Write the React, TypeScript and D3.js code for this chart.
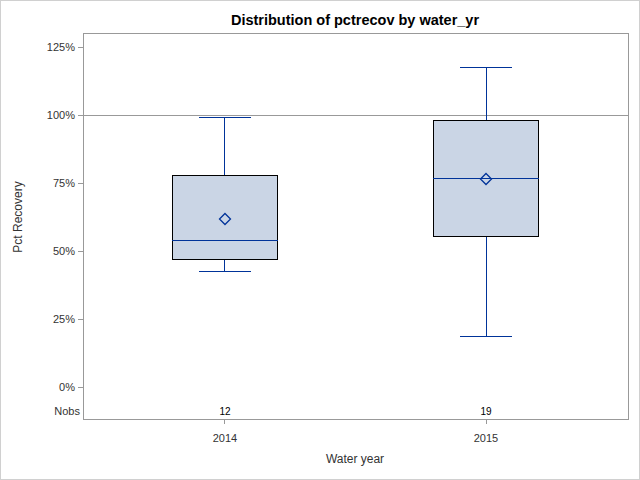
import * as d3 from "d3";

// values (fractions)
const years = ["2014", "2015"];
const nobs = [12, 19];
const whiskerLow = [0.426, 0.1875];
const q1 = [0.47, 0.555];
const median = [0.54, 0.765];
const q3 = [0.776, 0.978];
const whiskerHigh = [0.989, 1.176];
const means = [0.618, 0.765];
const yTicks = [0, 0.25, 0.5, 0.75, 1, 1.25];
const refValue = 1;

const width = 640;
const height = 480;
const frame = { left: 83, right: 628, top: 33, bottom: 419 };

const boxFill = "#CAD5E5";
const blue = "#003399";
const grey = "#999999";
const font = "'Liberation Sans', Arial, sans-serif";

export default function App() {
  const x = d3
    .scalePoint<string>()
    .domain(years)
    .range([frame.left, frame.right])
    .padding(0.544);

  const y = d3.scaleLinear().domain([0, 1.25]).range([387, 47]);
  const fmt = d3.format(".0%");

  const boxW = x.step() * 0.405;
  const capW = boxW / 2;
  const nobsY = 411;

  return (
    <svg
      width={width}
      height={height}
      style={{ position: "absolute", left: 0, top: 0, fontFamily: font }}
    >
      <rect x={0.5} y={0.5} width={width - 1} height={height - 1} fill="#fff" stroke="#d0d0d0" />

      <text x={355} y={25} textAnchor="middle" fontSize={14.5} fontWeight="bold" fill="#000">
        Distribution of pctrecov by water_yr
      </text>

      <g shapeRendering="crispEdges">
        {/* reference line */}
        <line x1={frame.left} x2={frame.right} y1={y(refValue)} y2={y(refValue)} stroke={grey} />

        {/* boxes */}
        {years.map((yr, i) => {
          const cx = x(yr) as number;
          return (
            <g key={yr}>
              <line x1={cx} x2={cx} y1={y(q3[i])} y2={y(whiskerHigh[i])} stroke={blue} />
              <line x1={cx} x2={cx} y1={y(q1[i])} y2={y(whiskerLow[i])} stroke={blue} />
              <line x1={cx - capW / 2} x2={cx + capW / 2} y1={y(whiskerHigh[i])} y2={y(whiskerHigh[i])} stroke={blue} />
              <line x1={cx - capW / 2} x2={cx + capW / 2} y1={y(whiskerLow[i])} y2={y(whiskerLow[i])} stroke={blue} />
              <rect
                x={cx - boxW / 2}
                y={y(q3[i])}
                width={boxW}
                height={y(q1[i]) - y(q3[i])}
                fill={boxFill}
                stroke="#000"
              />
              <line x1={cx - boxW / 2} x2={cx + boxW / 2} y1={y(median[i])} y2={y(median[i])} stroke={blue} />
            </g>
          );
        })}

        {/* frame */}
        <rect
          x={frame.left}
          y={frame.top}
          width={frame.right - frame.left}
          height={frame.bottom - frame.top}
          fill="none"
          stroke={grey}
        />
        {yTicks.map((t) => (
          <line key={t} x1={frame.left - 5} x2={frame.left} y1={y(t)} y2={y(t)} stroke={grey} />
        ))}
        {years.map((yr) => (
          <line key={yr} x1={x(yr)} x2={x(yr)} y1={frame.bottom} y2={frame.bottom + 5} stroke={grey} />
        ))}
      </g>

      {/* means and counts */}
      {years.map((yr, i) => {
        const cx = x(yr) as number;
        const m = Math.round(y(means[i]));
        const r = 5.5;
        return (
          <g key={yr}>
            <path
              d={`M${cx},${m - r}L${cx + r},${m}L${cx},${m + r}L${cx - r},${m}Z`}
              fill="none"
              stroke={blue}
              strokeWidth={1.3}
            />
            <text x={cx} y={nobsY + 4} textAnchor="middle" fontSize={10} fill="#000">
              {nobs[i]}
            </text>
          </g>
        );
      })}

      {/* y axis labels */}
      {yTicks.map((t) => (
        <text key={t} x={frame.left - 8} y={y(t)} dy="0.35em" textAnchor="end" fontSize={11} fill="#333">
          {fmt(t)}
        </text>
      ))}
      <text x={frame.left - 3} y={nobsY + 4} textAnchor="end" fontSize={11} fill="#333">
        Nobs
      </text>
      <text
        transform={`translate(22,217) rotate(-90)`}
        textAnchor="middle"
        fontSize={12}
        fill="#333"
      >
        Pct Recovery
      </text>

      {/* x axis labels */}
      {years.map((yr) => (
        <text key={yr} x={x(yr)} y={442} textAnchor="middle" fontSize={11} fill="#333">
          {yr}
        </text>
      ))}
      <text x={355} y={463} textAnchor="middle" fontSize={12} fill="#333">
        Water year
      </text>
    </svg>
  );
}
